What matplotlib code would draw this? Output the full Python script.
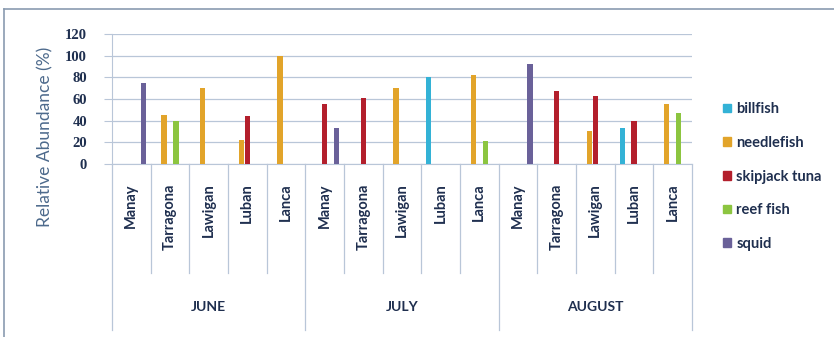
import matplotlib
matplotlib.use('Agg')
from matplotlib import pyplot as plt
from matplotlib.patches import Patch
from matplotlib.lines import Line2D
import numpy as np

# data
months = ['JUNE', 'JULY', 'AUGUST']
sites = ['Manay', 'Tarragona', 'Lawigan', 'Luban', 'Lanca']
species = ['billfish', 'needlefish', 'skipjack tuna', 'reef fish', 'squid']
colors = ['#33b2d6', '#e2a42a', '#b31f2c', '#8cc540', '#6a6199']

#                June               July               August
billfish   = [0, 0, 0, 0, 0,      0, 0, 0, 80, 0,     0, 0, 0, 33, 0]
needlefish = [0, 45, 70, 22, 100, 0, 0, 70, 0, 82,    0, 0, 30, 0, 55]
skipjack   = [0, 0, 0, 44, 0,     55, 61, 0, 0, 0,    0, 67, 63, 40, 0]
reef_fish  = [0, 40, 0, 0, 0,     0, 0, 0, 0, 21,     0, 0, 0, 0, 47]
squid      = [75, 0, 0, 0, 0,     33, 0, 0, 0, 0,     92, 0, 0, 0, 0]
series = [billfish, needlefish, skipjack, reef_fish, squid]

grid_col = '#b9c6d8'
text_col = '#1f2f4f'

fig = plt.figure(figsize=(8.34, 3.37), dpi=100)
ax = fig.add_axes([112/834, 1-164/337, 580/834, 130/337])

n = len(months) * len(sites)
x = np.arange(n)
for k, vals in enumerate(series):
    vals = np.array(vals, dtype=float)
    m = vals > 0
    ax.bar(x[m] + (k - 2) * 0.155, vals[m], width=0.13, color=colors[k], zorder=3)

ax.set_xlim(-0.5, n - 0.5)
ax.set_ylim(0, 120)
ax.set_yticks(range(0, 121, 20))
ax.set_xticks([])
ax.grid(axis='y', color=grid_col, lw=0.9, zorder=0)
for s in ['top', 'right']:
    ax.spines[s].set_visible(False)
ax.spines['left'].set_color(grid_col)
ax.spines['bottom'].set_color(grid_col)
ax.tick_params(axis='y', length=6, color=grid_col, pad=12)
for lab in ax.get_yticklabels():
    lab.set_fontfamily('Liberation Serif')
    lab.set_fontweight('bold')
    lab.set_fontsize(10.5)
    lab.set_color(text_col)

# category / month axis below the plot
tr = ax.get_xaxis_transform()
for i in range(n + 1):
    low = -1.277 if i % len(sites) == 0 else -0.838
    ax.plot([i - 0.5, i - 0.5], [0, low], color=grid_col, lw=0.9,
            transform=tr, clip_on=False)
for i in range(n):
    ax.text(i, -0.15, sites[i % len(sites)], rotation=90, ha='center', va='top',
            transform=tr, fontsize=10.5, fontweight='bold', color=text_col,
            family='Lato')
for j, mo in enumerate(months):
    ax.text(j * len(sites) + 2, -1.10, mo, ha='center', va='center',
            transform=tr, fontsize=10, fontweight='bold', color=text_col,
            family='Lato')

fig.text(45/834, 1-137/337, 'Relative Abundance (%)', rotation=90,
         ha='center', va='center', fontsize=12.5, color='#4d6a8c', family='Lato')

handles = [Patch(color=c) for c in colors]
fig.legend(handles, species, loc='upper left', bbox_to_anchor=(710/834, 1-89/337),
           frameon=False, handlelength=0.55, handleheight=0.55, handletextpad=0.35,
           labelspacing=1.35, prop={'family': 'Lato', 'weight': 'bold', 'size': 10.5},
           labelcolor=text_col)

# outer chart frame (left and top edges visible)
fig.add_artist(Line2D([4/834, 4/834], [0, 1-9/337], color='#8a9bb0', lw=1.2))
fig.add_artist(Line2D([4/834, 1], [1-9/337, 1-9/337], color='#8a9bb0', lw=1.2))

fig.savefig('out.png', dpi=100)
